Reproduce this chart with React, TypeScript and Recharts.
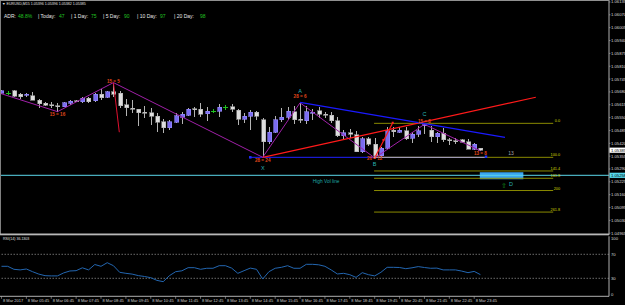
import React from 'react';
import {
  ComposedChart,
  LineChart,
  Bar,
  Line,
  XAxis,
  YAxis,
  ReferenceLine,
  ReferenceDot,
  ReferenceArea,
} from 'recharts';

const FONT = '"Liberation Sans", Arial, sans-serif';

// ---------------- data ----------------
const timeLabels = [
  '8 Mar 2017', '8 Mar 05:45', '8 Mar 06:45', '8 Mar 07:45', '8 Mar 08:45',
  '8 Mar 09:45', '8 Mar 10:45', '8 Mar 11:45', '8 Mar 12:45', '8 Mar 13:45',
  '8 Mar 14:45', '8 Mar 15:45', '8 Mar 16:45', '8 Mar 17:45', '8 Mar 18:45',
  '8 Mar 19:45', '8 Mar 20:45', '8 Mar 21:45', '8 Mar 22:45', '8 Mar 23:45',
];

const opens = [
  1.05674, 1.05674, 1.05685, 1.05668, 1.05664, 1.05661, 1.05639, 1.05622, 1.05615, 1.05611,
  1.05605, 1.05622, 1.05635, 1.05629, 1.05648, 1.05634, 1.05669, 1.05654, 1.05681, 1.05673,
  1.05614, 1.05598, 1.05592, 1.05576, 1.05575, 1.05558, 1.05529, 1.05499, 1.05526, 1.05553,
  1.05563, 1.05594, 1.05593, 1.05570, 1.05582, 1.05582, 1.05602, 1.05605, 1.05588, 1.05541,
  1.05558, 1.05578, 1.05538, 1.05428, 1.05477, 1.05538, 1.05551, 1.05580, 1.05542, 1.05534,
  1.05576, 1.05585, 1.05568, 1.05563, 1.05534, 1.05458, 1.05474, 1.05462, 1.05377, 1.05442,
  1.05416, 1.05356, 1.05395, 1.05487, 1.05477, 1.05484, 1.05445, 1.05465, 1.05512, 1.05487,
  1.05453, 1.05471, 1.05438, 1.05434, 1.05437, 1.05428, 1.05390, 1.05396,
];
const highs = [
  1.05690, 1.05685, 1.05690, 1.05676, 1.05674, 1.05678, 1.05642, 1.05629, 1.05630, 1.05622,
  1.05630, 1.05638, 1.05639, 1.05652, 1.05656, 1.05674, 1.05693, 1.05685, 1.05727, 1.05685,
  1.05643, 1.05639, 1.05594, 1.05609, 1.05597, 1.05575, 1.05541, 1.05538, 1.05572, 1.05577,
  1.05599, 1.05605, 1.05625, 1.05605, 1.05593, 1.05619, 1.05614, 1.05619, 1.05593, 1.05575,
  1.05588, 1.05585, 1.05546, 1.05504, 1.05558, 1.05597, 1.05605, 1.05609, 1.05625, 1.05609,
  1.05592, 1.05602, 1.05580, 1.05580, 1.05555, 1.05487, 1.05491, 1.05482, 1.05453, 1.05453,
  1.05445, 1.05403, 1.05504, 1.05501, 1.05501, 1.05501, 1.05479, 1.05509, 1.05516, 1.05507,
  1.05479, 1.05496, 1.05448, 1.05445, 1.05442, 1.05440, 1.05420, 1.05396,
];
const lows = [
  1.05669, 1.05664, 1.05654, 1.05646, 1.05654, 1.05637, 1.05597, 1.05609, 1.05597, 1.05580,
  1.05602, 1.05612, 1.05629, 1.05626, 1.05622, 1.05631, 1.05639, 1.05649, 1.05656, 1.05597,
  1.05558, 1.05572, 1.05507, 1.05546, 1.05513, 1.05476, 1.05471, 1.05487, 1.05521, 1.05516,
  1.05558, 1.05555, 1.05555, 1.05534, 1.05572, 1.05551, 1.05588, 1.05580, 1.05513, 1.05521,
  1.05487, 1.05538, 1.05349, 1.05416, 1.05471, 1.05529, 1.05538, 1.05518, 1.05521, 1.05518,
  1.05538, 1.05546, 1.05549, 1.05521, 1.05453, 1.05437, 1.05445, 1.05375, 1.05369, 1.05406,
  1.05346, 1.05349, 1.05393, 1.05453, 1.05471, 1.05437, 1.05423, 1.05453, 1.05465, 1.05425,
  1.05423, 1.05428, 1.05411, 1.05415, 1.05420, 1.05390, 1.05386, 1.05382,
];
const closes = [
  1.05685, 1.05674, 1.05659, 1.05656, 1.05669, 1.05639, 1.05620, 1.05612, 1.05612, 1.05609,
  1.05625, 1.05632, 1.05633, 1.05649, 1.05630, 1.05669, 1.05651, 1.05681, 1.05669, 1.05610,
  1.05600, 1.05596, 1.05575, 1.05574, 1.05558, 1.05526, 1.05499, 1.05529, 1.05560, 1.05567,
  1.05593, 1.05592, 1.05568, 1.05582, 1.05582, 1.05602, 1.05602, 1.05592, 1.05541, 1.05558,
  1.05578, 1.05558, 1.05428, 1.05477, 1.05538, 1.05553, 1.05582, 1.05538, 1.05540, 1.05580,
  1.05578, 1.05567, 1.05566, 1.05534, 1.05458, 1.05474, 1.05465, 1.05377, 1.05442, 1.05416,
  1.05356, 1.05395, 1.05484, 1.05479, 1.05486, 1.05443, 1.05467, 1.05484, 1.05514, 1.05453,
  1.05471, 1.05437, 1.05436, 1.05432, 1.05425, 1.05391, 1.05415, 1.05385,
];
const rsiValues = [
  50, 50, 45, 44, 45.5, 41, 37, 34.4, 34, 34,
  39, 42.2, 42.7, 47.5, 44, 53, 50, 56, 51, 40,
  38.3, 37, 34.5, 33, 31, 26.5, 24.4, 34.4, 41, 42.5,
  47.7, 47.7, 45, 46.7, 46.7, 51, 51, 47, 38.3, 42.7,
  47, 45, 28.8, 41, 46.7, 48.3, 51, 46.7, 46.7, 53.3,
  53.3, 52.5, 50, 44, 37.2, 38.3, 36, 31.5, 39.4, 36,
  34, 40, 48.3, 48.3, 48, 46, 47.5, 49.5, 48, 46.7,
  47, 44, 44, 44, 42, 39.4, 41.5, 36.1,
];

const zigzagBars = [-0.24, 9, 18, 42, 48, 60, 68, 77];
const zigzagPrices = [1.05673, 1.0558, 1.05727, 1.05349, 1.05625, 1.05346, 1.05516, 1.05382];

const priceTicks = [
  1.06135, 1.0607, 1.06005, 1.0594, 1.05875, 1.0581, 1.05745, 1.0568, 1.05615, 1.0555,
  1.05485, 1.0542, 1.05355, 1.0529, 1.05225, 1.0516, 1.05095, 1.0503, 1.04965,
];
const lastPrice = 1.05385;
const volLinePrice = 1.05258;
const titleText = 'EURUSD,M15  1.05396 1.05396 1.05382 1.05385';
const adrLabels = ['ADR:', '| Today:', '| 1 Day:', '| 5 Day:', '| 10 Day:', '| 20 Day:'];
const adrValues = ['48.8%', '47', '75', '90', '97', '98'];
const rsiLabel = 'RSI(14) 36.1303';
const rsiTicks = [0, 30, 70, 100];
const rsiLevels = [70, 30];

// trend lines: [barFrom, priceFrom, barTo, priceTo]
const redSpike = [18, 1.05727, 18.94, 1.05476];
const redTrend = [42, 1.05349, 85.9, 1.05653];
const redBC = [60, 1.05346, 62.9, 1.05524];
const blueTrend = [48, 1.05627, 80.95, 1.0545];
const xbLine = [40, 1.05349, 59.7, 1.05349];
const bProjLine = [59.7, 1.05349, 77.7, 1.05349];

const fibLabels = ['0.0', '100.0', '141.4', '161.8', '200', '261.8'];
const fibPrices = [1.05521, 1.05349, 1.0528, 1.05243, 1.05181, 1.05072];
const fibStartBar = 59.9;
const fibEndBar = 88.7;
const fibLabelBar = 89.8;

const volBox = [76.9, 83.9, 1.05238, 1.05273];

const ratioTexts = ['15 = 16', '15 = 5', '28 = 6', '28 = 24', '26 = 12', '15 = 8', '13 = 8'];
const ratioBars = [9, 18, 48, 42, 60, 68, 77];
const ratioPrices = [1.05565, 1.05731, 1.05658, 1.05334, 1.05344, 1.05531, 1.05369];

const pointTexts = ['X', 'A', 'B', 'C', 'D'];
const pointBars = [42, 48, 60, 68, 81.9];
const pointPrices = [1.05295, 1.05684, 1.05314, 1.05567, 1.05213];

const blueMarkers = [[40, 1.05349], [77.9, 1.05352]];
const redMarkers = [[60, 1.05346], [61.4, 1.05437], [62.9, 1.05524]];
const countText = '13';
const countAnchor = [81.9, 1.05369];
const arrowAnchor = [80.8, 1.05205];
const highVolText = 'High Vol line';
const highVolAnchor = [52.2, 1.05229];

// ---------------- chart setup ----------------
const X_DOMAIN: [number, number] = [-0.24, 97.67];
const Y_DOMAIN: [number, number] = [1.04956, 1.06145];
const hourTicks = timeLabels.map((_, k) => k * 4);
const yTicks = [...priceTicks, lastPrice, volLinePrice];

const data = opens.map((o, i) => ({
  i,
  o,
  h: highs[i],
  l: lows[i],
  c: closes[i],
  range: [lows[i], highs[i]],
  rsi: rsiValues[i],
}));

const zigzagSegments = zigzagBars.slice(1).map((b, k) => [
  { x: zigzagBars[k], y: zigzagPrices[k] },
  { x: b, y: zigzagPrices[k + 1] },
]);

const Candle = (props: any) => {
  const { x, y, width, height, payload } = props;
  if (!payload) return null;
  const { o, h, l, c } = payload;
  const center = Math.round(x + width / 2);
  const span = h - l;
  const py = (p: number) => y + ((h - p) / span) * height;
  const wx = center + 0.5;
  if (o === c) {
    const yc = Math.round(py(o)) + 0.5;
    return (
      <g shapeRendering="crispEdges">
        <line x1={wx} x2={wx} y1={y} y2={y + height} stroke="#20c020" strokeWidth={1} />
        <line x1={center - 2} x2={center + 3} y1={yc} y2={yc} stroke="#20c020" strokeWidth={1} />
      </g>
    );
  }
  const bull = c > o;
  const top = py(Math.max(o, c));
  const bot = py(Math.min(o, c));
  const bh = Math.max(1, bot - top);
  return (
    <g shapeRendering="crispEdges">
      <line x1={wx} x2={wx} y1={y} y2={y + height} stroke="#b4b4b4" strokeWidth={1} />
      <rect
        x={center - 1.5}
        y={top}
        width={4}
        height={bh}
        fill={bull ? '#7b6cf0' : '#dedede'}
        stroke={bull ? '#9a90ff' : '#a8a8a8'}
        strokeWidth={0.6}
      />
    </g>
  );
};

const PriceTick = (props: any) => {
  const { y, payload } = props;
  const v = payload.value;
  const tx = 611;
  if (v === lastPrice || v === volLinePrice) {
    const isLast = v === lastPrice;
    return (
      <g>
        <rect x={tx - 1.5} y={y - 2.6} width={15.5} height={5.2} fill={isLast ? '#ffffff' : '#56d8ec'} />
        <text x={tx} y={y} fontSize={4.2} fontFamily={FONT} fill="#000" dominantBaseline="central">
          {v.toFixed(5)}
        </text>
      </g>
    );
  }
  return (
    <g>
      <line x1={609} x2={610.5} y1={y} y2={y} stroke="#b0b0b0" strokeWidth={0.6} />
      <text x={tx} y={y} fontSize={4.2} fontFamily={FONT} fill="#d8d8d8" dominantBaseline="central">
        {v.toFixed(5)}
      </text>
    </g>
  );
};

const RsiTick = (props: any) => {
  const { y, payload } = props;
  const v = payload.value;
  const dy = v === 100 ? 2 : v === 0 ? -2 : 0;
  return (
    <text x={611} y={y + dy} fontSize={4.2} fontFamily={FONT} fill="#d8d8d8" dominantBaseline="central">
      {String(v)}
    </text>
  );
};

const TimeTick = (props: any) => {
  const { x, y, payload } = props;
  const label = timeLabels[Math.round(payload.value / 4)];
  return (
    <g>
      <line x1={x} x2={x} y1={y} y2={y + 2.5} stroke="#b0b0b0" strokeWidth={0.6} />
      <text x={x + 1.5} y={y + 4.6} fontSize={4} fontFamily={FONT} fill="#d0d0d0" dominantBaseline="central">
        {label}
      </text>
    </g>
  );
};

const textShape =
  (txt: string, fill: string, size: number, anchor: string = 'middle', dy: number = 0, weight: string = 'normal') =>
  (p: any) =>
    (
      <text
        x={p.cx}
        y={p.cy}
        dy={dy}
        fill={fill}
        fontSize={size}
        fontFamily={FONT}
        fontWeight={weight}
        textAnchor={anchor as any}
        dominantBaseline="central"
      >
        {txt}
      </text>
    );

const squareShape = (fill: string, s: number) => (p: any) =>
  <rect x={p.cx - s / 2} y={p.cy - s / 2} width={s} height={s} fill={fill} />;

const seg = (a: number[]) => [
  { x: a[0], y: a[1] },
  { x: a[2], y: a[3] },
];

export default function App() {
  return (
    <div style={{ position: 'fixed', left: 0, top: 0, width: 625, height: 305, background: '#000', overflow: 'hidden' }}>
      <div style={{ position: 'absolute', left: 0, top: 0 }}>
        <ComposedChart width={625} height={235} data={data} margin={{ top: 0, right: 0, left: 0, bottom: 0 }}>
          <XAxis type="number" dataKey="i" domain={X_DOMAIN} allowDataOverflow hide />
          <YAxis
            orientation="right"
            domain={Y_DOMAIN}
            allowDataOverflow
            ticks={yTicks}
            interval={0}
            width={16}
            tick={PriceTick}
            tickLine={false}
            axisLine={{ stroke: '#b0b0b0' }}
            tickSize={2}
            tickMargin={0}
          />
          {fibPrices.map((p, k) => (
            <ReferenceLine
              key={'fib' + k}
              segment={[
                { x: fibStartBar, y: p },
                { x: fibEndBar, y: p },
              ]}
              stroke="#8a8a00"
              strokeWidth={1}
            />
          ))}
          <ReferenceLine y={volLinePrice} stroke="#5ad8ea" strokeWidth={1} />
          <ReferenceArea x1={volBox[0]} x2={volBox[1]} y1={volBox[2]} y2={volBox[3]} fill="#3aa6f2" fillOpacity={1} stroke="none" />
          <ReferenceLine segment={seg(xbLine)} stroke="#2020ff" strokeWidth={1} />
          <ReferenceLine segment={seg(bProjLine)} stroke="#a8a2dc" strokeWidth={1} />
          <Bar dataKey="range" barSize={4} shape={Candle} isAnimationActive={false} />
          {zigzagSegments.map((s, k) => (
            <ReferenceLine key={'zz' + k} segment={s} stroke="#a020a8" strokeWidth={1} />
          ))}
          <ReferenceLine segment={seg(redSpike)} stroke="#e0102f" strokeWidth={1} />
          <ReferenceLine segment={seg(redTrend)} stroke="#ff1a1a" strokeWidth={1.2} />
          <ReferenceLine segment={seg(redBC)} stroke="#ff1a1a" strokeWidth={1.2} />
          <ReferenceLine segment={seg(blueTrend)} stroke="#1a1aff" strokeWidth={1.2} />
          {blueMarkers.map((m, k) => (
            <ReferenceDot key={'bm' + k} x={m[0]} y={m[1]} r={1} shape={squareShape('#2030ff', 2.5)} />
          ))}
          {redMarkers.map((m, k) => (
            <ReferenceDot key={'rm' + k} x={m[0]} y={m[1]} r={1} shape={squareShape('#ff2020', 2)} />
          ))}
          <ReferenceDot x={60} y={1.05349} r={1} shape={squareShape('#ffffff', 1.5)} />
          {fibLabels.map((t, k) => (
            <ReferenceDot
              key={'fl' + k}
              x={fibLabelBar}
              y={fibPrices[k]}
              r={1}
              shape={textShape(t, '#d4d400', 3.8, 'end', -2)}
            />
          ))}
          {ratioTexts.map((t, k) => (
            <ReferenceDot
              key={'rt' + k}
              x={ratioBars[k]}
              y={ratioPrices[k]}
              r={1}
              shape={textShape(t, '#e0481c', 4.6, 'middle', 0, 'bold')}
            />
          ))}
          {pointTexts.map((t, k) => (
            <ReferenceDot
              key={'pt' + k}
              x={pointBars[k]}
              y={pointPrices[k]}
              r={1}
              shape={textShape(t, '#2ab3b3', 5.5)}
            />
          ))}
          <ReferenceDot x={countAnchor[0]} y={countAnchor[1]} r={1} shape={textShape(countText, '#a8a8a8', 5)} />
          <ReferenceDot x={arrowAnchor[0]} y={arrowAnchor[1]} r={1} shape={textShape('⇧', '#10901a', 6.5)} />
          <ReferenceDot x={highVolAnchor[0]} y={highVolAnchor[1]} r={1} shape={textShape(highVolText, '#1fa8a8', 4.8)} />
        </ComposedChart>
      </div>

      <div style={{ position: 'absolute', left: 0, top: 234 }}>
        <LineChart width={625} height={71} data={data} margin={{ top: 2.3, right: 0, left: 0, bottom: 0 }}>
          <XAxis
            type="number"
            dataKey="i"
            domain={X_DOMAIN}
            allowDataOverflow
            ticks={hourTicks}
            interval={0}
            height={8.7}
            tick={TimeTick}
            tickLine={false}
            axisLine={{ stroke: '#b0b0b0' }}
            tickSize={0}
            tickMargin={0}
          />
          <YAxis
            orientation="right"
            domain={[0, 100]}
            allowDataOverflow
            ticks={rsiTicks}
            interval={0}
            width={16}
            tick={RsiTick}
            tickLine={false}
            axisLine={{ stroke: '#b0b0b0' }}
          />
          {rsiLevels.map((lv) => (
            <ReferenceLine key={lv} y={lv} stroke="#9a9a9a" strokeDasharray="1.5 1.5" strokeWidth={0.7} />
          ))}
          <Line dataKey="rsi" dot={false} stroke="#2366b0" strokeWidth={1} isAnimationActive={false} />
        </LineChart>
      </div>

      <svg
        width={625}
        height={305}
        style={{ position: 'absolute', left: 0, top: 0, pointerEvents: 'none' }}
      >
        <line x1={0.5} x2={0.5} y1={0} y2={234} stroke="#808080" strokeWidth={1} />
        <line x1={0} x2={609} y1={0.5} y2={0.5} stroke="#909090" strokeWidth={1} />
        <rect x={0} y={233.5} width={609} height={1.8} fill="#b8b8b8" />
        <text x={2} y={4.4} fontSize={3.6} fontFamily={FONT} fill="#e0e0e0" dominantBaseline="central">
          {'▼ ' + titleText}
        </text>
        {adrLabels.map((t, k) => {
          const lx = [4, 38, 71, 103, 137, 174][k];
          const vx = [18, 59, 91, 124, 160, 200][k];
          return (
            <g key={'adr' + k}>
              <text x={lx} y={15.7} fontSize={5} fontFamily={FONT} fill="#e8e8e8" dominantBaseline="central">
                {t}
              </text>
              <text x={vx} y={15.7} fontSize={5} fontFamily={FONT} fill="#22c022" dominantBaseline="central">
                {adrValues[k]}
              </text>
            </g>
          );
        })}
        <text x={3} y={239.3} fontSize={3.6} fontFamily={FONT} fill="#e0e0e0" dominantBaseline="central">
          {rsiLabel}
        </text>
      </svg>
    </div>
  );
}
